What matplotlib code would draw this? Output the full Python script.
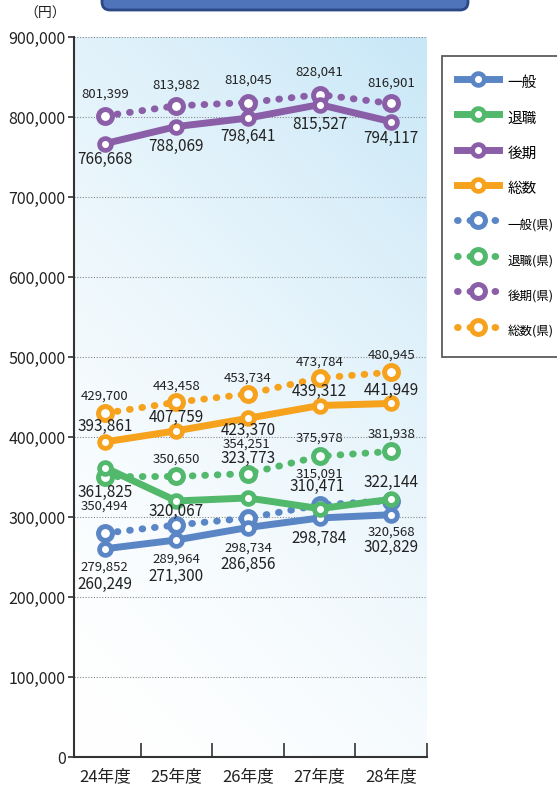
import numpy as np
import matplotlib.pyplot as plt
import matplotlib.font_manager as fm
from matplotlib.lines import Line2D
from matplotlib.patches import FancyBboxPatch
from matplotlib.transforms import IdentityTransform

# data
years = ['24年度', '25年度', '26年度', '27年度', '28年度']
ippan = [260249, 271300, 286856, 298784, 302829]
taishoku = [361825, 320067, 323773, 310471, 322144]
kouki = [766668, 788069, 798641, 815527, 794117]
sousu = [393861, 407759, 423370, 439312, 441949]
ippan_ken = [279852, 289964, 298734, 315091, 320568]
taishoku_ken = [350494, 350650, 354251, 375978, 381938]
kouki_ken = [801399, 813982, 818045, 828041, 816901]
sousu_ken = [429700, 443458, 453734, 473784, 480945]
names = ['一般', '退職', '後期', '総数']
y_ticks = np.arange(0, 900001, 100000)

colors = ['#5b86c6', '#52b86c', '#8b5fa8', '#f6a21d']

# label offsets in pixels (dx, dy up)
off_solid = [
    [(0, -36), (0, -37), (0, -37), (0, -20), (0, -33)],
    [(0, -25), (0, -11), (0, 40), (-2, 22), (0, 17)],
    [(0, -16), (0, -20), (0, -18), (0, -20), (0, -17)],
    [(0, 15), (0, 13), (0, -12), (0, 14), (0, 13)],
]
off_ken = [
    [(0, -34), (0, -34), (0, -30), (0, 31), (0, -32)],
    [(0, -30), (0, 17), (-2, 29), (0, 18), (0, 17)],
    [(0, 22), (0, 21), (0, 22), (0, 22), (0, 20)],
    [(0, 17), (0, 16), (0, 16), (0, 16), (0, 17)],
]

have = {f.name for f in fm.fontManager.ttflist}
fam = [f for f in ['Liberation Sans Narrow', 'Noto Sans CJK JP', 'DejaVu Sans'] if f in have]
plt.rcParams['font.family'] = fam

fig = plt.figure(figsize=(5.57, 7.90), dpi=100)
ax = fig.add_axes([74 / 557, 33 / 790, 353 / 557, 720 / 790])

# background gradient
gx, gy = np.meshgrid(np.linspace(0, 1, 200), np.linspace(0, 1, 200))
t = np.clip((gx * 353 + gy * 720) / 1073, 0, 1) ** 1.6
c0 = np.array([1.0, 1.0, 1.0])
c1 = np.array([200, 231, 247]) / 255
img = c0 + (c1 - c0) * t[..., None]
ax.imshow(img, extent=[0, 1, 0, 1], transform=ax.transAxes, origin='lower',
          aspect='auto', zorder=0)

x = np.arange(len(years))
dots = (0, (0.1, 1.7))

for vals, c, offs in zip([ippan_ken, taishoku_ken, kouki_ken, sousu_ken], colors, off_ken):
    ax.plot(x, vals, color=c, lw=5, ls=dots, dash_capstyle='round', marker='o',
            ms=10, mfc='white', mec=c, mew=3.6, zorder=3)
    for xi, v, (dx, dy) in zip(x, vals, offs):
        ax.annotate(f'{v:,}', (xi, v), xytext=(dx, dy), textcoords='offset pixels',
                    ha='center', va='center', fontsize=9.5, color='#222222', zorder=6)

for vals, c, offs in zip([ippan, taishoku, kouki, sousu], colors, off_solid):
    ax.plot(x, vals, color=c, lw=5, marker='o', ms=8.5, mfc='white', mec=c,
            mew=3.4, zorder=4)
    for xi, v, (dx, dy) in zip(x, vals, offs):
        ax.annotate(f'{v:,}', (xi, v), xytext=(dx, dy), textcoords='offset pixels',
                    ha='center', va='center', fontsize=11, color='#222222', zorder=6)

ax.set_xlim(-0.43, 4.5)
ax.set_ylim(0, 900000)
ax.set_yticks(y_ticks)
ax.set_yticklabels([f'{v:,}' for v in y_ticks], fontsize=11.5, color='#222222')
ax.yaxis.grid(True, color='#8a8a8a', ls=(0, (1, 1.5)), lw=0.8)
for gl in ax.get_ygridlines():
    gl.set_zorder(1)

ax.set_xticks(np.arange(0.5, 5, 1))
ax.set_xticklabels([])
ax.set_xticks(x, minor=True)
ax.set_xticklabels(years, minor=True, fontsize=12, color='#222222')
ax.tick_params(axis='x', which='major', direction='in', length=10, width=1.2, color='#333333')
ax.tick_params(axis='x', which='minor', length=0, pad=8)
ax.tick_params(axis='y', direction='out', length=4, width=1.2, color='#333333', pad=2)

for s in ['top', 'right']:
    ax.spines[s].set_visible(False)
for s in ['left', 'bottom']:
    ax.spines[s].set_color('#333333')
    ax.spines[s].set_linewidth(1.5)

# legend
handles = []
for c in colors:
    handles.append(Line2D([], [], color=c, lw=5, marker='o', ms=8.5, mfc='white',
                          mec=c, mew=3.4))
for c in colors:
    handles.append(Line2D([], [], color=c, lw=5, ls=dots, dash_capstyle='round',
                          marker='o', ms=10, mfc='white', mec=c, mew=3.6))
labels = names + [n + '(県)' for n in names]
leg = fig.legend(handles, labels, loc='upper left', bbox_to_anchor=(442 / 557, 1 - 56 / 790),
                 fontsize=10.5, numpoints=1, handlelength=2.9, handleheight=2.2,
                 labelspacing=0.75, borderpad=1.0, handletextpad=0.6,
                 frameon=True, fancybox=False, edgecolor='#333333', borderaxespad=0)
leg.get_frame().set_linewidth(1.3)
for txt in leg.get_texts()[4:]:
    txt.set_fontsize(9)

# header box and unit
box = FancyBboxPatch((102, 780), 366, 40, boxstyle='round,pad=0,rounding_size=8',
                     transform=IdentityTransform(), facecolor='#4f74ba',
                     edgecolor='#2a4886', lw=2)
fig.patches.append(box)
fig.text(45 / 557, 1 - 14 / 790, '（円）', ha='center', va='center', fontsize=10,
         color='#222222')

fig.savefig('out.png', dpi=100)
